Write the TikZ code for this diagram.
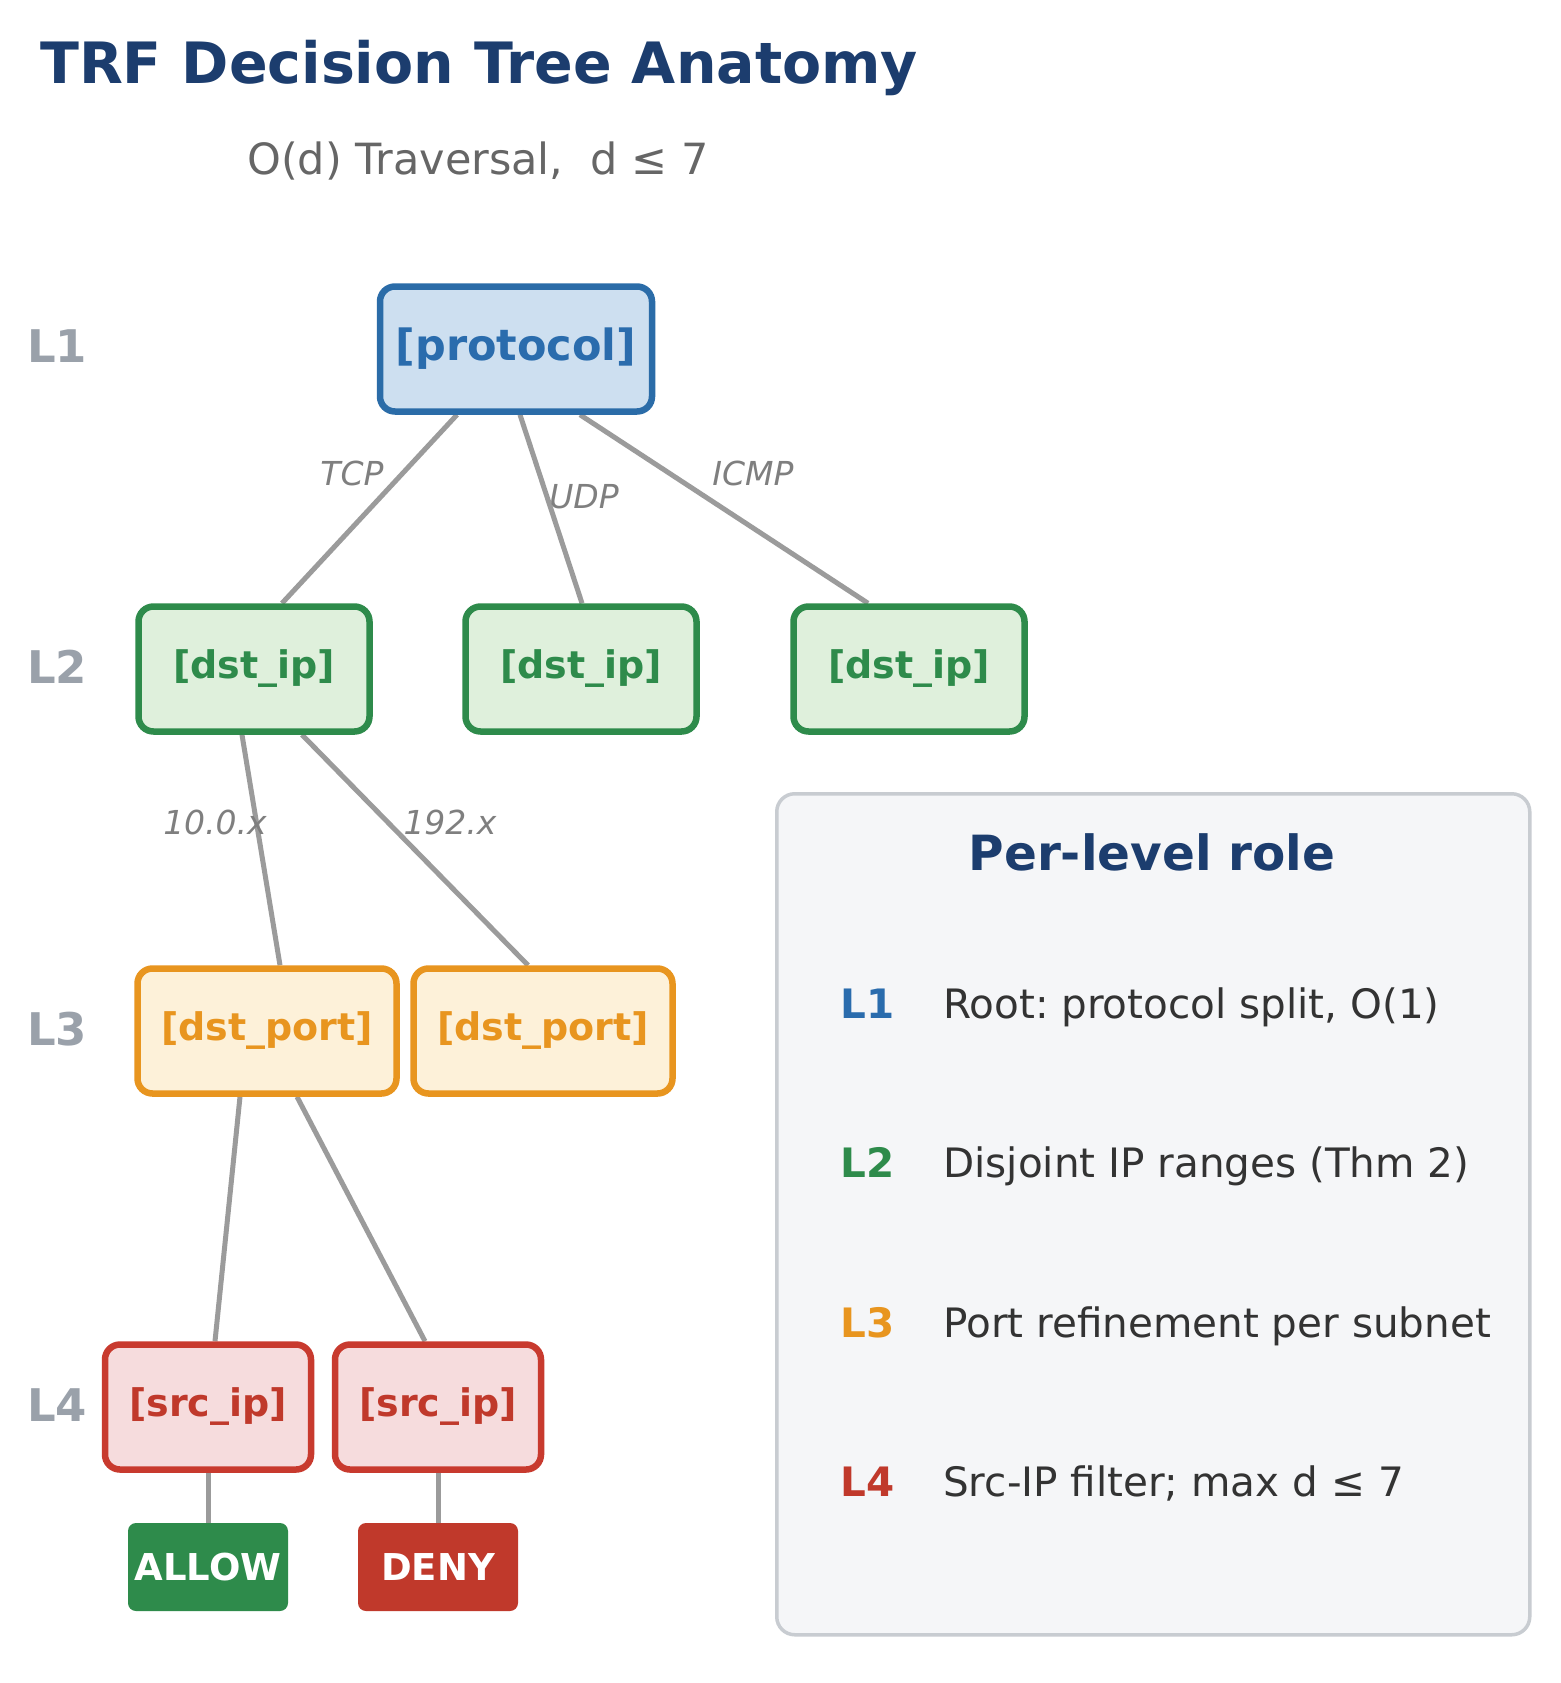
\documentclass[tikz,border=0pt]{standalone}
\usepackage{fontspec}
\setmainfont{DejaVu Sans}[ItalicFont={DejaVu Sans Oblique},BoldFont={DejaVu Sans Bold},BoldItalicFont={DejaVu Sans Bold Oblique}]
\usetikzlibrary{backgrounds}
\frenchspacing
\definecolor{navy}{HTML}{1C3D6E}
\definecolor{subgray}{HTML}{666666}
\definecolor{lvlgray}{HTML}{9AA1AA}
\definecolor{bluebd}{HTML}{2B6CA8}
\definecolor{bluefill}{HTML}{CDDFF0}
\definecolor{bluetx}{HTML}{2A6CAD}
\definecolor{greenbd}{HTML}{2E8B4B}
\definecolor{greenfill}{HTML}{DFF0DC}
\definecolor{orangebd}{HTML}{E8951F}
\definecolor{orangefill}{HTML}{FDF1D9}
\definecolor{redbd}{HTML}{C83A2E}
\definecolor{redfill}{HTML}{F6DCDD}
\definecolor{redtx}{HTML}{C0392B}
\definecolor{edgegray}{HTML}{9B9B9B}
\definecolor{elabgray}{HTML}{7F7F7F}
\definecolor{legfill}{HTML}{F5F6F8}
\definecolor{legbd}{HTML}{C8CCD1}
\definecolor{legtx}{HTML}{333333}
\begin{document}
\frenchspacing
\begin{tikzpicture}[x=1pt,y=-1pt,
  tnode/.style={draw, line width=6.5pt, rounded corners=15pt, minimum height=125pt, inner sep=0pt, font=\fontsize{38}{40}\selectfont\bfseries},
  bluenode/.style={tnode, draw=bluebd, fill=bluefill, text=bluetx, font=\fontsize{43}{45}\selectfont\bfseries},
  greennode/.style={tnode, draw=greenbd, fill=greenfill, text=greenbd},
  orangenode/.style={tnode, draw=orangebd, fill=orangefill, text=orangebd},
  rednode/.style={tnode, draw=redbd, fill=redfill, text=redtx},
  leaf/.style={rounded corners=8pt, minimum width=160pt, minimum height=88pt, inner sep=0pt, text=white, font=\fontsize{37}{39}\selectfont\bfseries},
  edge/.style={draw=edgegray, line width=5pt},
  elabel/.style={text=elabgray, inner sep=0pt, font=\fontsize{33}{35}\selectfont\itshape},
  lvl/.style={anchor=west, inner sep=0pt, text=lvlgray, font=\fontsize{45}{47}\selectfont\bfseries},
  legkey/.style={anchor=base west, inner sep=0pt, font=\fontsize{40.5}{42}\selectfont\bfseries},
  legtext/.style={anchor=base west, inner sep=0pt, text=legtx, font=\fontsize{40.5}{42}\selectfont}
]
\useasboundingbox (0,0) rectangle (1560,1683);

% title
\node[anchor=base west, inner sep=0pt, text=navy, font=\fontsize{57}{60}\selectfont\bfseries] (title) at (40,84) {TRF Decision Tree Anatomy};
\node[anchor=base west, inner sep=0pt, text=subgray, font=\fontsize{43}{45}\selectfont] (subtitle) at (247,174) {O(d) Traversal,\ \ d ≤ 7};

% level labels
\node[lvl] (lv1) at (27,346) {L1};
\node[lvl] (lv2) at (27,667) {L2};
\node[lvl] (lv3) at (27,1029) {L3};
\node[lvl] (lv4) at (27,1405) {L4};

% tree nodes
\node[bluenode, minimum width=272pt] (P) at (516,349) {[protocol]};
\node[greennode, minimum width=231pt] (A2) at (254,669) {[dst\_ip]};
\node[greennode, minimum width=231pt] (B2) at (581,669) {[dst\_ip]};
\node[greennode, minimum width=231pt] (C2) at (909,669) {[dst\_ip]};
\node[orangenode, minimum width=259pt] (A3) at (267,1031) {[dst\_port]};
\node[orangenode, minimum width=259pt] (B3) at (543,1031) {[dst\_port]};
\node[rednode, minimum width=206pt] (A4) at (208,1407) {[src\_ip]};
\node[rednode, minimum width=206pt] (B4) at (438,1407) {[src\_ip]};
\node[leaf, fill=greenbd] (allow) at (208,1567) {ALLOW};
\node[leaf, fill=redtx] (deny) at (438,1567) {DENY};

% connectors
\begin{scope}[on background layer]
\fill[white] (0,0) rectangle (1560,1683);
\draw[edge] ([xshift=-59pt]P.south) -- ([xshift=28pt]A2.north);
\draw[edge] ([xshift=4pt]P.south) -- ([xshift=1pt]B2.north);
\draw[edge] ([xshift=64pt]P.south) -- ([xshift=-41pt]C2.north);
\draw[edge] ([xshift=-12pt]A2.south) -- ([xshift=13pt]A3.north);
\draw[edge] ([xshift=48pt]A2.south) -- ([xshift=-15pt]B3.north);
\draw[edge] ([xshift=-27pt]A3.south) -- ([xshift=7pt]A4.north);
\draw[edge] ([xshift=30pt]A3.south) -- ([xshift=-13pt]B4.north);
\draw[edge] (A4.south) -- (allow.north);
\draw[edge] (B4.south) -- (deny.north);
\end{scope}

% edge labels
\node[elabel] (lTCP) at (352,473) {TCP};
\node[elabel] (lUDP) at (584,497) {UDP};
\node[elabel] (lICMP) at (753,473) {ICMP};
\node[elabel] (l10) at (215,822) {10.0.x};
\node[elabel] (l192) at (450,822) {192.x};

% legend
\node[draw=legbd, fill=legfill, line width=3.5pt, rounded corners=18pt, minimum width=753pt, minimum height=841pt, anchor=north west, inner sep=0pt] (legend) at (775,792) {};
\node[anchor=base, inner sep=0pt, text=navy, font=\fontsize{48.5}{50}\selectfont\bfseries] (legtitle) at (1152,870) {Per-level role};
\node[legkey, text=bluetx] (k1) at (840,1018) {L1};
\node[legtext] (d1) at (943,1018) {Root: protocol split, O(1)};
\node[legkey, text=greenbd] (k2) at (840,1177) {L2};
\node[legtext] (d2) at (943,1177) {Disjoint IP ranges (Thm 2)};
\node[legkey, text=orangebd] (k3) at (840,1337) {L3};
\node[legtext] (d3) at (943,1337) {Port refinement per subnet};
\node[legkey, text=redtx] (k4) at (840,1496) {L4};
\node[legtext] (d4) at (943,1496) {Src-IP filter; max d ≤ 7};
\end{tikzpicture}
\end{document}
